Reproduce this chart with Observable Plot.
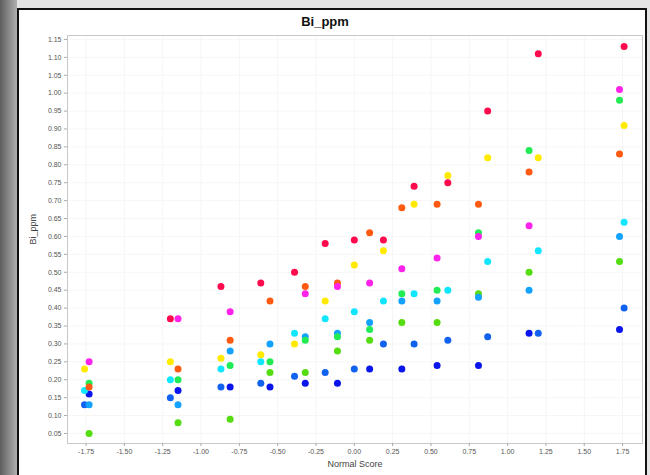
<!DOCTYPE html>
<html><head><meta charset="utf-8">
<script src="https://cdn.jsdelivr.net/npm/d3@7"></script>
<script src="https://cdn.jsdelivr.net/npm/@observablehq/plot@0.6"></script>
<style>
body{margin:0;width:650px;height:475px;overflow:hidden;background:#e4e4e4;font-family:"Liberation Sans",Arial,sans-serif;position:relative}
#strip{position:absolute;left:0;top:0;width:17px;height:475px;background:linear-gradient(to right,#5e5e5e,#b0b0b0)}
#panel{position:absolute;left:17px;top:8px;width:626px;height:480px;border:2px solid #111;background:#fff}
#title{position:absolute;left:0;top:14px;width:650px;text-align:center;font-weight:bold;font-size:13px;color:#111}
#chart{position:absolute;left:0;top:0}
</style></head><body>
<div id="strip"></div>
<div id="panel"></div>
<div id="chart"></div>
<div id="title">Bi_ppm</div>
<script>
// Normal scores (two sample sizes)
const xA = [-1.76, -1.20, -0.87, -0.61, -0.39, -0.19, 0.00, 0.19, 0.39, 0.61, 0.87, 1.20, 1.76];
const xB = [-1.73, -1.15, -0.81, -0.55, -0.32, -0.11, 0.10, 0.31, 0.54, 0.81, 1.14, 1.73];

// Series on xA
const redVals    = [null, 0.37, 0.46, 0.47, 0.50, 0.58, 0.59, 0.59, 0.74, 0.75, 0.95, 1.11, 1.13];
const yellowVals = [0.23, 0.25, 0.26, 0.27, 0.30, 0.42, 0.52, 0.56, 0.69, 0.77, 0.82, 0.82, 0.91];
const cyanVals   = [0.17, 0.20, 0.23, 0.25, 0.33, 0.37, 0.39, 0.42, 0.44, 0.45, 0.53, 0.56, 0.64];
const blueVals   = [0.13, 0.15, 0.18, 0.19, 0.21, 0.22, 0.23, 0.30, 0.30, 0.31, 0.32, 0.33, 0.40];

// Series on xB
const magentaVals  = [0.25, 0.37, 0.39, null, 0.44, 0.46, 0.47, 0.51, 0.54, 0.60, 0.63, 1.01];
const orangeVals   = [0.18, 0.23, 0.31, 0.42, 0.46, 0.47, 0.61, 0.68, 0.69, 0.69, 0.78, 0.83];
const greenVals    = [0.19, 0.20, 0.24, 0.25, 0.31, 0.32, 0.34, 0.44, 0.45, 0.61, 0.84, 0.98];
const azureVals    = [0.13, 0.13, 0.28, 0.30, 0.32, 0.33, 0.36, 0.42, 0.42, 0.43, 0.45, 0.60];
const limeVals     = [0.05, 0.08, 0.09, 0.22, 0.22, 0.28, 0.31, 0.36, 0.36, 0.44, 0.50, 0.53];
const darkBlueVals = [0.16, 0.17, 0.18, 0.18, 0.19, 0.19, 0.23, 0.23, 0.24, 0.24, 0.33, 0.34];

const xTicks = d3.range(-7, 8).map(i => i * 0.25);
const yTicks = d3.range(1, 24).map(i => +(i * 0.05).toFixed(2));

const series = [
  {x: xA, y: blueVals,     color: "#1262f0"},
  {x: xB, y: darkBlueVals, color: "#0a14ec"},
  {x: xB, y: limeVals,     color: "#55dd12"},
  {x: xB, y: azureVals,    color: "#14a2ff"},
  {x: xA, y: cyanVals,     color: "#12e6ff"},
  {x: xB, y: greenVals,    color: "#22ec55"},
  {x: xA, y: yellowVals,   color: "#ffea00"},
  {x: xB, y: orangeVals,   color: "#ff5a12"},
  {x: xB, y: magentaVals,  color: "#ff22ea"},
  {x: xA, y: redVals,      color: "#ff0a4c"}
];
const rows = series.flatMap(s => s.x.map((x, i) => ({x, y: s.y[i], c: s.color}))).filter(d => d.y != null);

const chart = Plot.plot({
  width: 650, height: 475,
  marginLeft: 67, marginRight: 8, marginTop: 35, marginBottom: 32,
  style: {background: "transparent", fontFamily: "'Liberation Sans', Arial, sans-serif", fontSize: "7px", color: "#555"},
  x: {domain: [-1.871, 1.88]},
  y: {domain: [0.022, 1.161]},
  color: {type: "identity"},
  marks: [
    Plot.gridX(xTicks, {stroke: "#f5f5f5", strokeOpacity: 1}),
    Plot.gridY(yTicks, {stroke: "#f6f6f6", strokeOpacity: 1}),
    Plot.frame({stroke: "#c8c8c8"}),
    Plot.axisX(xTicks, {tickFormat: d => d.toFixed(2), tickSize: 3, tickPadding: 3, stroke: "#aaa", label: null, fontSize: 7}),
    Plot.axisY(yTicks, {tickFormat: d => d.toFixed(2), tickSize: 3, tickPadding: 3, stroke: "#aaa", label: null, fontSize: 7}),
    Plot.text(["Normal Score"], {frameAnchor: "bottom", dy: 23, fontSize: 9, fill: "#444"}),
    Plot.text(["Bi_ppm"], {frameAnchor: "left", dx: -34, dy: 5, rotate: -90, fontSize: 9, fill: "#444"}),
    Plot.dot(rows, {x: "x", y: "y", fill: "c", r: 3.5})
  ]
});
document.getElementById("chart").appendChild(chart);
</script>
</body></html>
